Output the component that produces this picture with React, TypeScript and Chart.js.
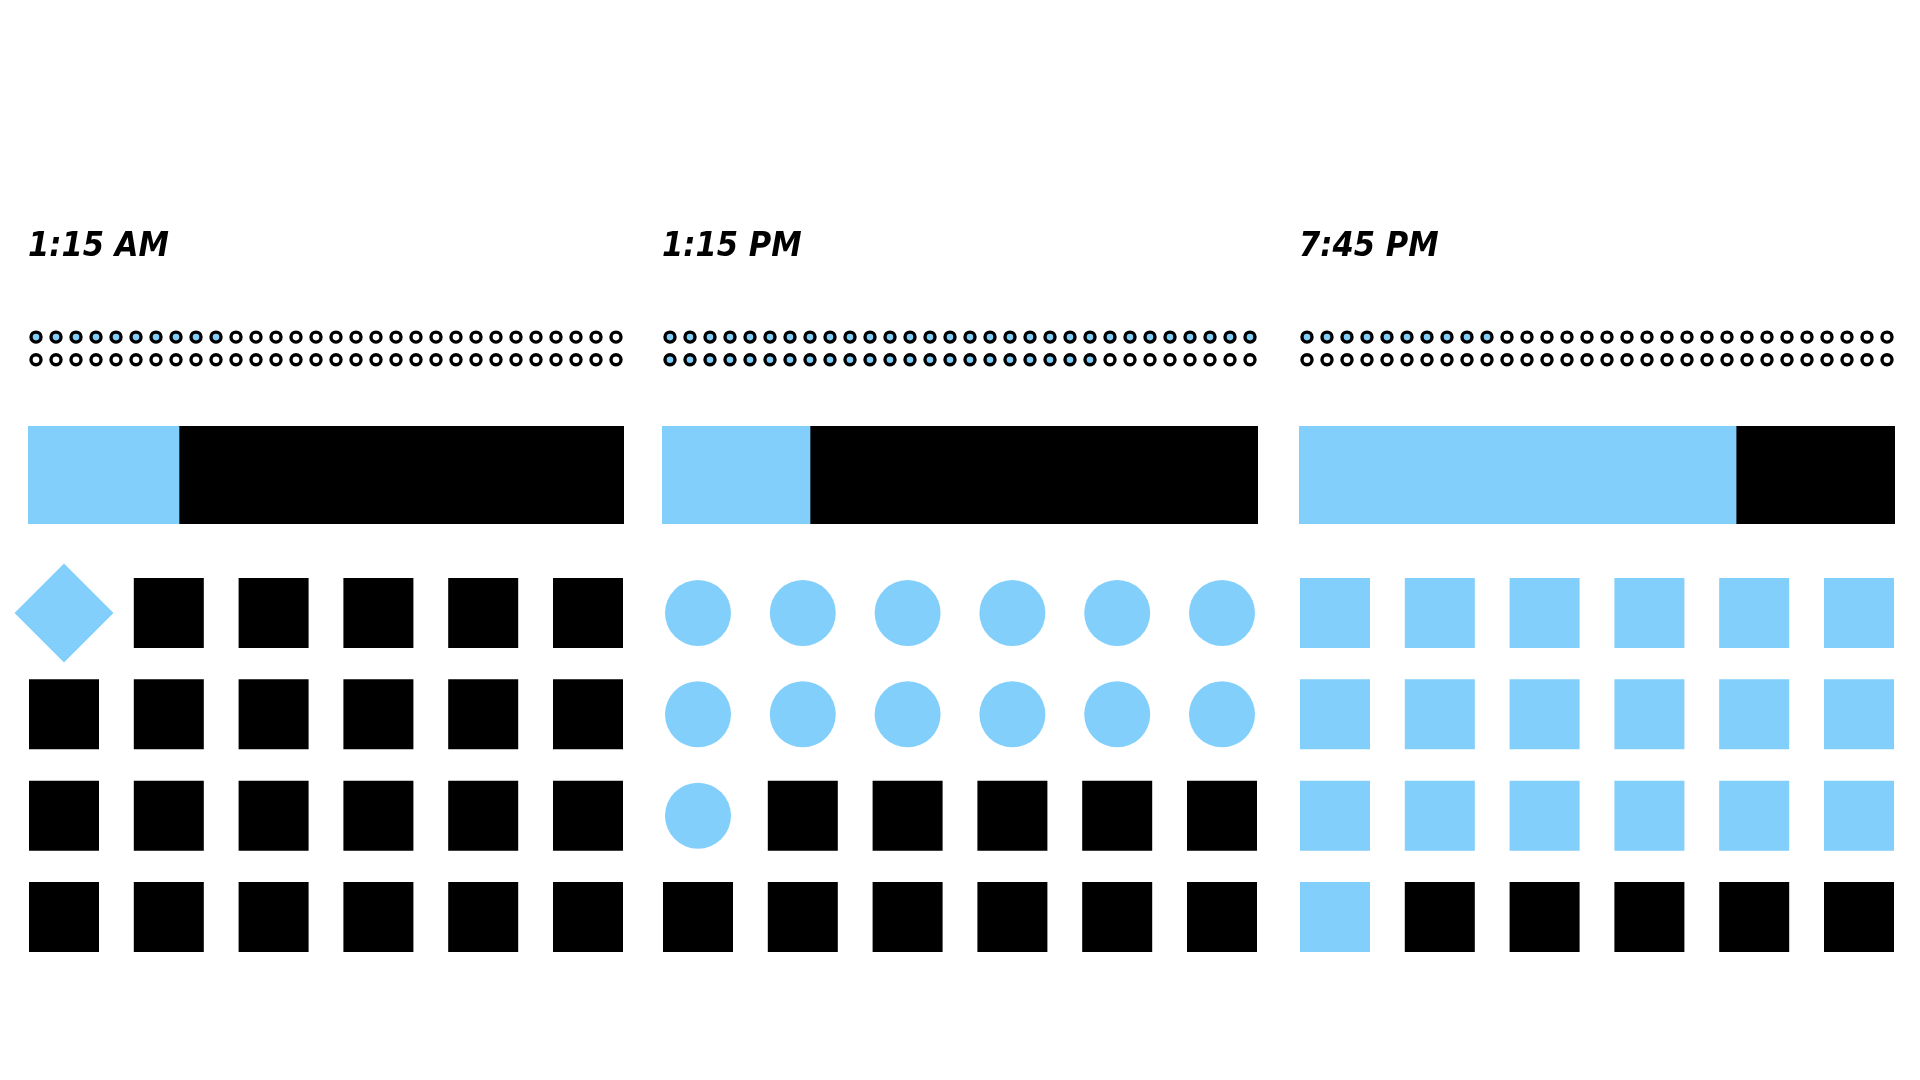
import React, { useEffect, useRef } from 'react';
import { Chart, registerables } from 'chart.js';

Chart.register(...registerables);

// ---- data ----
const TIME_LABELS = ['1:15 AM', '1:15 PM', '7:45 PM'];
const HOURS_DONE = [1, 13, 19];
const MINUTE_FILL = [15.2, 14.9, 44];
const MINUTE_TOTAL = 60;
const SECONDS_DONE = [10, 52, 10];
const SECOND_SLOTS = 60;
const DOTS_PER_ROW = 30;
const HOUR_SLOTS = 24;
const HOUR_COLS = 6;
const HOUR_SHAPES = ['rectRot', 'circle', 'rect'];

// ---- styling / layout ----
const BLUE = '#81cffa';
const INK = '#000000';
const PAPER = '#ffffff';
const PANEL_LEFT = [28, 662, 1299];
const PANEL_W = 596;
const TITLE_FONT = {
  family: '"DejaVu Sans Condensed", "DejaVu Sans", sans-serif',
  size: 34,
  style: 'italic' as const,
  weight: 'bold' as const,
};

function Panel({ idx }: { idx: number }) {
  const dotsRef = useRef<HTMLCanvasElement | null>(null);
  const barRef = useRef<HTMLCanvasElement | null>(null);
  const gridRef = useRef<HTMLCanvasElement | null>(null);

  useEffect(() => {
    const charts: Chart[] = [];
    const secs = SECONDS_DONE[idx];
    const dotData = Array.from({ length: SECOND_SLOTS }, (_, i) => ({
      x: i % DOTS_PER_ROW,
      y: 1 - Math.floor(i / DOTS_PER_ROW),
    }));
    charts.push(
      new Chart(dotsRef.current!, {
        type: 'scatter',
        data: {
          datasets: [
            {
              data: dotData,
              pointRadius: 5,
              pointBorderWidth: 3.4,
              pointBorderColor: INK,
              pointBackgroundColor: dotData.map((_, i) => (i < secs ? BLUE : PAPER)),
              clip: false,
            } as any,
          ],
        },
        options: {
          animation: false,
          responsive: false,
          events: [],
          layout: { padding: 0, autoPadding: false },
          plugins: {
            legend: { display: false },
            tooltip: { enabled: false },
            title: {
              display: true,
              text: TIME_LABELS[idx],
              align: 'start',
              color: INK,
              font: TITLE_FONT,
              padding: { top: 27, bottom: 58 },
            },
          },
          scales: {
            x: { type: 'linear', display: false, min: -0.4, max: 29.4 },
            y: { type: 'linear', display: false, min: -0.5, max: 1.5 },
          },
        },
      })
    );

    const fill = MINUTE_FILL[idx];
    charts.push(
      new Chart(barRef.current!, {
        type: 'bar',
        data: {
          labels: [TIME_LABELS[idx]],
          datasets: [
            { data: [fill], backgroundColor: BLUE, borderWidth: 0, barPercentage: 1, categoryPercentage: 1 },
            { data: [MINUTE_TOTAL - fill], backgroundColor: INK, borderWidth: 0, barPercentage: 1, categoryPercentage: 1 },
          ],
        },
        options: {
          animation: false,
          responsive: false,
          events: [],
          indexAxis: 'y',
          layout: { padding: 0 },
          plugins: { legend: { display: false }, tooltip: { enabled: false }, title: { display: false } },
          scales: {
            x: { stacked: true, display: false, min: 0, max: MINUTE_TOTAL },
            y: { stacked: true, display: false },
          },
        },
      })
    );

    const hours = HOURS_DONE[idx];
    const shape = HOUR_SHAPES[idx];
    const gridData = Array.from({ length: HOUR_SLOTS }, (_, i) => ({
      x: i % HOUR_COLS,
      y: 3 - Math.floor(i / HOUR_COLS),
    }));
    const styles = gridData.map((_, i) => (i < hours ? shape : 'rect'));
    charts.push(
      new Chart(gridRef.current!, {
        type: 'scatter',
        data: {
          datasets: [
            {
              data: gridData,
              pointStyle: styles,
              pointRadius: styles.map((s) => (s === 'circle' ? 33 : 49.5)),
              pointBorderWidth: 0,
              pointBackgroundColor: gridData.map((_, i) => (i < hours ? BLUE : INK)),
              clip: false,
            } as any,
          ],
        },
        options: {
          animation: false,
          responsive: false,
          events: [],
          layout: { padding: { left: 51, right: 51, top: 73, bottom: 63 }, autoPadding: false },
          plugins: { legend: { display: false }, tooltip: { enabled: false }, title: { display: false } },
          scales: {
            x: { type: 'linear', display: false, min: 0, max: HOUR_COLS - 1 },
            y: { type: 'linear', display: false, min: 0, max: 3 },
          },
        },
      })
    );

    return () => charts.forEach((c) => c.destroy());
  }, [idx]);

  const left = PANEL_LEFT[idx];
  return (
    <>
      <canvas
        ref={dotsRef}
        width={PANEL_W}
        height={171}
        style={{ position: 'absolute', left, top: 200, width: PANEL_W, height: 171 }}
      />
      <canvas
        ref={barRef}
        width={PANEL_W}
        height={98}
        style={{ position: 'absolute', left, top: 426, width: PANEL_W, height: 98 }}
      />
      <canvas
        ref={gridRef}
        width={PANEL_W + 30}
        height={440}
        style={{ position: 'absolute', left: left - 15, top: 540, width: PANEL_W + 30, height: 440 }}
      />
    </>
  );
}

export default function App() {
  return (
    <div
      style={{
        position: 'absolute',
        left: 0,
        top: 0,
        width: 1920,
        height: 1080,
        background: PAPER,
        overflow: 'hidden',
      }}
    >
      {TIME_LABELS.map((_, i) => (
        <Panel key={i} idx={i} />
      ))}
    </div>
  );
}
